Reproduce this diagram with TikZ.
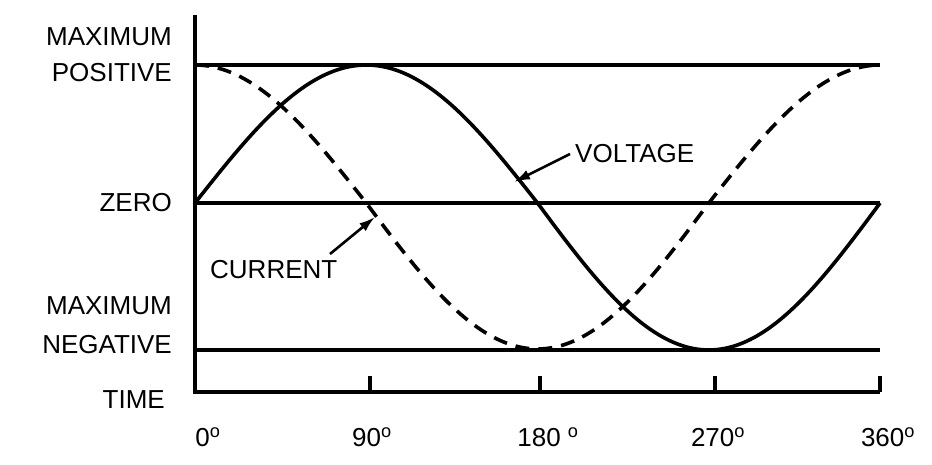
\documentclass[tikz,border=0pt]{standalone}
\usepackage{fontspec}
\setmainfont{Liberation Sans}
\usetikzlibrary{arrows.meta}
\begin{document}
\begin{tikzpicture}[x=1pt,y=-1pt,
  lab/.style={font=\fontsize{26}{28}\selectfont,inner sep=0pt},
  ax/.style={line width=3.2pt},
  crv/.style={line width=3.6pt},
  arr/.style={line width=2.6pt,-{Latex[length=16pt,width=10pt]}}]
\useasboundingbox (0,0) rectangle (932,465);
% axes and levels
\draw[ax] (195,15) -- (195,392) -- (880,392);
\draw[ax] (195,65) -- (880,65);
\draw[ax] (195,203) -- (880,203);
\draw[ax] (195,350) -- (880,350);
\foreach \t in {370,540,715,880} \draw[ax] (\t,392) -- (\t,376);
% curves
\draw[crv,domain=0:360,samples=120,smooth] plot ({195+1.903*\x},{203-(sin(\x)>0?138:147)*sin(\x)});
\draw[crv,dash pattern=on 14pt off 9pt,domain=0:360,samples=120,smooth] plot ({195+1.903*\x},{203-(cos(\x)>0?138:146)*cos(\x)});
% labels
\node[lab,anchor=east] (mp1) at (172,37) {MAXIMUM};
\node[lab,anchor=east] (mp2) at (172,73) {POSITIVE};
\node[lab,anchor=east] (zr) at (172,203) {ZERO};
\node[lab,anchor=east] (mn1) at (172,306) {MAXIMUM};
\node[lab,anchor=east] (mn2) at (172,345) {NEGATIVE};
\node[lab,anchor=east] (tm) at (165,400) {TIME};
\node[lab] (d0) at (208,437) {0\textsuperscript{o}};
\node[lab] (d90) at (372,437) {90\textsuperscript{o}};
\node[lab] (d180) at (548,437) {180 \textsuperscript{o}};
\node[lab] (d270) at (718,437) {270\textsuperscript{o}};
\node[lab] (d360) at (888,437) {360\textsuperscript{o}};
\node[lab,anchor=west] (volt) at (575,154) {VOLTAGE};
\node[lab,anchor=west] (curr) at (210,270) {CURRENT};
\coordinate (vt) at (514,182);
\coordinate (ct) at (375,217);
\draw[arr] ([xshift=-5pt]volt.west) -- (vt);
\draw[arr] (330,254) -- (ct);
\end{tikzpicture}
\end{document}
